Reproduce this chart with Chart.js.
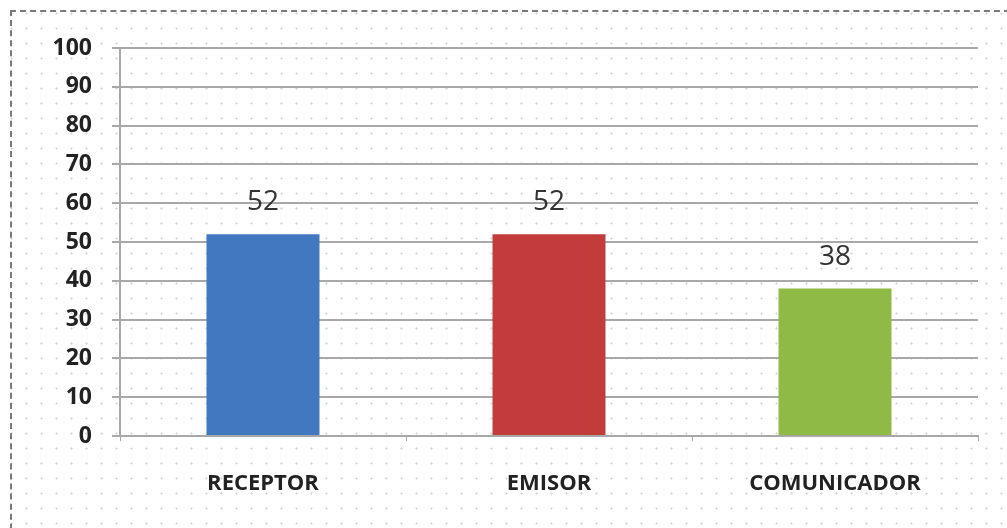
<!DOCTYPE html>
<html>
<head>
<meta charset="utf-8">
<script src="https://cdn.jsdelivr.net/npm/chart.js@4"></script>
<style>
  html, body { margin: 0; padding: 0; background: #fff; }
  #wrap {
    position: relative;
    width: 1007px;
    height: 528px;
    overflow: hidden;
    background-color: #fff;
    background-image: radial-gradient(circle, #d6d6d6 0.9px, transparent 1.3px);
    background-size: 15px 15px;
    background-position: 4px 6px;
  }
  #frame {
    position: absolute;
    left: 10px;
    top: 10px;
    width: 1010px;
    height: 540px;
    border-left: 2px dashed #7a7a7a;
    border-top: 2px dashed #7a7a7a;
    box-sizing: border-box;
  }
  canvas { position: absolute; left: 0; top: 0; }
</style>
</head>
<body>
<div id="wrap">
  <div id="frame"></div>
  <canvas id="myChart" width="1007" height="528"></canvas>
</div>
<script>
let categories = ['RECEPTOR', 'EMISOR', 'COMUNICADOR']
let values = [52, 52, 38]
let barColors = ['#4178c0', '#c23c3c', '#8fba45']
let yTicks = [0, 10, 20, 30, 40, 50, 60, 70, 80, 90, 100]

let ctx = document.getElementById('myChart');

// value printed above each bar
let valueLabels = {
    id: 'valueLabels',
    afterDatasetsDraw(chart) {
        let c = chart.ctx
        let meta = chart.getDatasetMeta(0)
        c.save()
        c.font = '28px "Open Sans", sans-serif'
        c.fillStyle = '#333333'
        c.textAlign = 'center'
        c.textBaseline = 'middle'
        meta.data.forEach((bar, i) => {
            let y = chart.scales.y.getPixelForValue(values[i])
            c.fillText(values[i], bar.x, y - 32)
        })
        c.restore()
    }
}

let myChart = new Chart(ctx, {
    type: 'bar',
    data: {
        labels: categories,
        datasets: [{
            data: values,
            backgroundColor: barColors,
            borderWidth: 0,
            categoryPercentage: 1,
            barPercentage: 0.395
        }]
    },
    options: {
        responsive: false,
        animation: false,
        layout: {
            padding: { left: 0, top: 48, right: 29, bottom: 0 }
        },
        plugins: {
            legend: { display: false },
            tooltip: { enabled: false }
        },
        scales: {
            y: {
                min: 0,
                max: 100,
                afterFit: (scale) => { scale.width = 120 },
                afterBuildTicks: (scale) => { scale.ticks = yTicks.map(v => ({ value: v })) },
                grid: {
                    color: '#a8a8a8',
                    lineWidth: 2,
                    tickLength: 8
                },
                border: { color: '#a8a8a8', width: 2 },
                ticks: {
                    padding: 20,
                    color: '#222222',
                    font: { family: '"Open Sans", sans-serif', size: 23, weight: 'bold' }
                }
            },
            x: {
                afterFit: (scale) => { scale.height = 92 },
                grid: {
                    offset: true,
                    drawOnChartArea: false,
                    color: '#a8a8a8',
                    lineWidth: 1,
                    tickLength: 5
                },
                border: { color: '#a8a8a8', width: 2 },
                ticks: {
                    padding: 30,
                    color: '#222222',
                    font: { family: '"Open Sans", sans-serif', size: 22, weight: 'bold' }
                }
            }
        }
    },
    plugins: [valueLabels]
});
</script>
</body>
</html>
